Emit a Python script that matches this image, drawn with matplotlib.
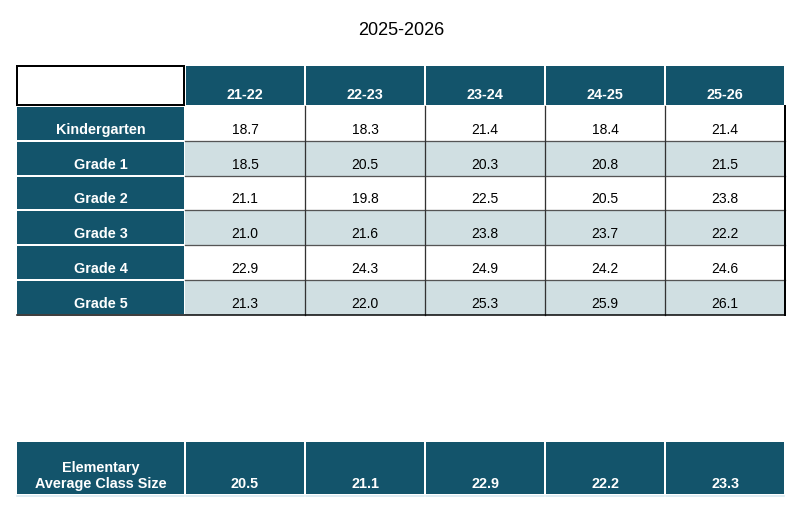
import matplotlib
matplotlib.use("Agg")
import matplotlib.pyplot as plt
from matplotlib.patches import Rectangle

title = "2025-2026"
columns = ["21-22", "22-23", "23-24", "24-25", "25-26"]
row_labels = ["Kindergarten", "Grade 1", "Grade 2", "Grade 3", "Grade 4", "Grade 5"]
kindergarten = [18.7, 18.3, 21.4, 18.4, 21.4]
grade1 = [18.5, 20.5, 20.3, 20.8, 21.5]
grade2 = [21.1, 19.8, 22.5, 20.5, 23.8]
grade3 = [21.0, 21.6, 23.8, 23.7, 22.2]
grade4 = [22.9, 24.3, 24.9, 24.2, 24.6]
grade5 = [21.3, 22.0, 25.3, 25.9, 26.1]
values = [kindergarten, grade1, grade2, grade3, grade4, grade5]
avg_label = "Elementary\nAverage Class Size"
avg_values = [20.5, 21.1, 22.9, 22.2, 23.3]

plt.rcParams['font.family'] = ['Liberation Sans', 'DejaVu Sans']

W, H = 794, 506
fig = plt.figure(figsize=(W / 100, H / 100), dpi=100)
ax = fig.add_axes([0, 0, 1, 1])
ax.set_xlim(0, W)
ax.set_ylim(H, 0)
ax.axis('off')

TEAL = '#13546b'
LIGHT = '#d0dfe2'
PX = 0.72  # points per pixel

lab_x0, lab_x1 = 17, 184
col_x0, col_w = 185, 120
hdr_y0, hdr_y1 = 67, 106
row_y0, row_h = 107, 34.8
avg_y0, avg_y1 = 443, 495
n_cols = len(columns)
data_x1 = col_x0 + col_w * n_cols
BOLD_FS = 10.4

ax.text(401, 30, title, ha='center', va='center', fontsize=13, color='black')

# empty top-left box
ax.add_patch(Rectangle((lab_x0, hdr_y0), lab_x1 - lab_x0, hdr_y1 - hdr_y0,
                       facecolor='white', edgecolor='black', lw=2 * PX))

# header cells
for j, c in enumerate(columns):
    x = col_x0 + j * col_w
    ax.add_patch(Rectangle((x + 1, hdr_y0), col_w - 2, hdr_y1 - hdr_y0,
                           facecolor=TEAL, edgecolor='none'))
    ax.text(x + col_w / 2, hdr_y1 - 4, c, ha='center', va='bottom',
            fontsize=BOLD_FS, fontweight='bold', color='white')

# data rows
n_rows = len(row_labels)
for i, (lab, vals) in enumerate(zip(row_labels, values)):
    y = row_y0 + i * row_h
    ax.add_patch(Rectangle((lab_x0, y + 1), lab_x1 - lab_x0, row_h - 2,
                           facecolor=TEAL, edgecolor='none'))
    ax.text((lab_x0 + lab_x1) / 2, y + row_h - 5, lab, ha='center', va='bottom',
            fontsize=BOLD_FS, fontweight='bold', color='white')
    fill = 'white' if i % 2 == 0 else LIGHT
    ax.add_patch(Rectangle((col_x0, y), col_w * n_cols, row_h,
                           facecolor=fill, edgecolor='none'))
    for j, v in enumerate(vals):
        x = col_x0 + j * col_w
        ax.text(x + col_w / 2, y + row_h - 5, f"{v:.1f}", ha='center', va='bottom',
                fontsize=10, color='black')

# grid lines in data area
for i in range(1, n_rows):
    y = row_y0 + i * row_h
    ax.plot([col_x0, data_x1], [y, y], color='#555555', lw=1.3 * PX)
for j in range(1, n_cols):
    x = col_x0 + j * col_w
    ax.plot([x, x], [row_y0, row_y0 + n_rows * row_h], color='#333333', lw=1.3 * PX)
ax.plot([data_x1, data_x1], [row_y0, row_y0 + n_rows * row_h], color='black', lw=2 * PX)
ax.plot([lab_x0, data_x1], [row_y0 + n_rows * row_h] * 2, color='black', lw=1.5 * PX)

# average row
ax.add_patch(Rectangle((lab_x0, avg_y0), lab_x1 - lab_x0, avg_y1 - avg_y0,
                       facecolor=TEAL, edgecolor='none'))
ax.plot([lab_x0, lab_x1], [avg_y1 + 1.5] * 2, color='#d5e6ee', lw=1.5 * PX)
ax.text((lab_x0 + lab_x1) / 2, avg_y1 - 4, avg_label, ha='center', va='bottom',
        fontsize=BOLD_FS, fontweight='bold', color='white', linespacing=1.2)
for j, v in enumerate(avg_values):
    x = col_x0 + j * col_w
    ax.add_patch(Rectangle((x + 1, avg_y0), col_w - 2, avg_y1 - avg_y0,
                           facecolor=TEAL, edgecolor='none'))
    ax.plot([x + 1, x + col_w - 1], [avg_y1 + 1.5] * 2, color='#d5e6ee', lw=1.5 * PX)
    ax.text(x + col_w / 2, avg_y1 - 4, f"{v:.1f}", ha='center', va='bottom',
            fontsize=BOLD_FS, fontweight='bold', color='white')

fig.savefig('out.png', dpi=100, facecolor='white')
